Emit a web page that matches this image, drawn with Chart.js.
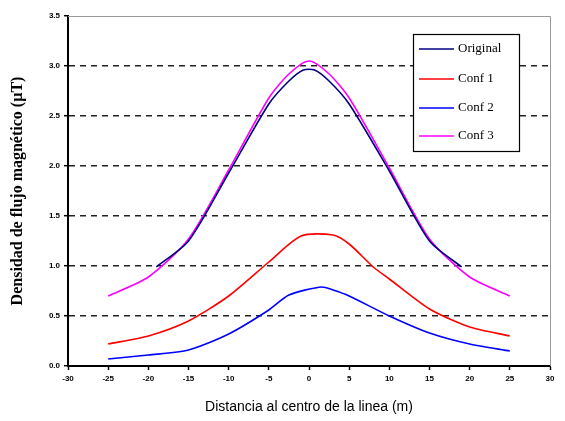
<!DOCTYPE html>
<html>
<head>
<meta charset="utf-8">
<script src="https://cdn.jsdelivr.net/npm/chart.js@4"></script>
<style>
  html, body { margin: 0; padding: 0; background: #fff; }
  #wrap { width: 565px; height: 421px; }
</style>
</head>
<body>
<div id="wrap"><canvas id="chart" width="565" height="421"></canvas></div>
<script>
// valores (distancia en m, densidad en uT)
const originalX = [-19, -15, -10, -5, -2.5, -0.7, 0.7, 2.5, 5, 10, 15, 19];
const originalY = [0.99, 1.25, 1.93, 2.62, 2.85, 2.96, 2.96, 2.85, 2.62, 1.95, 1.25, 0.99];

const conf1X = [-25, -20, -15, -10, -5, -1, 3, 5, 8, 10, 15, 20, 25];
const conf1Y = [0.22, 0.30, 0.45, 0.70, 1.04, 1.30, 1.31, 1.22, 0.99, 0.87, 0.57, 0.39, 0.30];

const conf2X = [-25, -20, -15, -10, -5, -2.5, 1.5, 3, 5, 10, 15, 20, 25];
const conf2Y = [0.07, 0.11, 0.16, 0.32, 0.56, 0.71, 0.79, 0.76, 0.70, 0.50, 0.33, 0.22, 0.15];

const conf3X = [-25, -20, -15, -10, -5, -2.5, 0, 2.5, 5, 10, 15, 20, 25];
const conf3Y = [0.70, 0.89, 1.27, 1.96, 2.68, 2.92, 3.05, 2.92, 2.68, 1.98, 1.27, 0.89, 0.70];

const seriesNames = ["Original", "Conf 1", "Conf 2", "Conf 3"];
const seriesColors = ["#000080", "#FF0000", "#0000FF", "#FF00FF"];

const xTicks = [-30, -25, -20, -15, -10, -5, 0, 5, 10, 15, 20, 25, 30];
const yTicks = [0, 0.5, 1.0, 1.5, 2.0, 2.5, 3.0, 3.5];

function pts(xs, ys) {
  return xs.map((x, i) => ({ x: x, y: ys[i] }));
}

const allData = [
  pts(originalX, originalY),
  pts(conf1X, conf1Y),
  pts(conf2X, conf2Y),
  pts(conf3X, conf3Y),
];

// orden de dibujo: Conf 3 debajo del Original
const drawOrder = [1, 2, 3, 4];

const datasets = allData.map((d, i) => ({
  label: seriesNames[i],
  data: d,
  borderColor: seriesColors[i],
  backgroundColor: seriesColors[i],
  borderWidth: 1.6,
  pointRadius: 0,
  tension: 0.25,
  order: drawOrder[i],
}));

// marco gris arriba/derecha y leyenda dentro del area
const framePlugin = {
  id: "frame",
  afterDatasetsDraw(chart) {
    const c = chart.ctx;
    const a = chart.chartArea;
    c.save();
    c.strokeStyle = "#9a9a9a";
    c.lineWidth = 1;
    c.beginPath();
    c.moveTo(a.left, a.top + 0.5);
    c.lineTo(a.right + 0.5, a.top + 0.5);
    c.lineTo(a.right + 0.5, a.bottom);
    c.stroke();

    // leyenda
    const bx = 413, by = 34, bw = 106, bh = 117;
    c.fillStyle = "#fff";
    c.fillRect(bx, by, bw, bh);
    c.strokeStyle = "#000";
    c.lineWidth = 1.2;
    c.strokeRect(bx + 0.5, by + 0.5, bw, bh);
    const rows = [49, 79, 108, 136];
    c.font = "13px 'Liberation Serif'";
    c.textBaseline = "middle";
    seriesNames.forEach((name, i) => {
      c.strokeStyle = seriesColors[i];
      c.lineWidth = 1.6;
      c.beginPath();
      c.moveTo(419, rows[i]);
      c.lineTo(454, rows[i]);
      c.stroke();
      c.fillStyle = "#000";
      c.fillText(name, 458, rows[i]);
    });
    c.restore();
  },
};

const tickFont = { family: "'Liberation Sans'", size: 8, weight: "bold" };

new Chart(document.getElementById("chart"), {
  type: "line",
  data: { datasets: datasets },
  plugins: [framePlugin],
  options: {
    responsive: false,
    animation: false,
    layout: { padding: { top: 16, right: 15, left: 0, bottom: 0 } },
    plugins: {
      legend: { display: false },
      tooltip: { enabled: false },
    },
    scales: {
      x: {
        type: "linear",
        min: -30,
        max: 30,
        afterBuildTicks: (s) => { s.ticks = xTicks.map((v) => ({ value: v })); },
        afterFit: (s) => { s.height = 55; },
        border: { color: "#000", width: 2 },
        grid: {
          drawOnChartArea: false,
          tickLength: 4,
          tickColor: "#000",
          tickWidth: 1.5,
        },
        ticks: {
          color: "#000",
          font: tickFont,
          padding: 4,
          maxRotation: 0,
          callback: (v) => String(v),
        },
        title: {
          display: true,
          text: "Distancia al centro de la linea (m)",
          color: "#000",
          font: { family: "'Liberation Sans'", size: 14 },
          padding: { top: 0, bottom: 5 },
        },
      },
      y: {
        type: "linear",
        min: 0,
        max: 3.5,
        afterBuildTicks: (s) => { s.ticks = yTicks.map((v) => ({ value: v })); },
        afterFit: (s) => { s.width = 68; },
        border: { color: "#000", width: 2, dash: [6, 5] },
        grid: {
          color: (ctx) => (ctx.tick && (ctx.tick.value === 0 || ctx.tick.value === 3.5)) ? "rgba(0,0,0,0)" : "#222",
          lineWidth: 1.4,
          tickBorderDash: [],
          tickLength: 4,
          tickColor: "#000",
          tickWidth: 1.5,
        },
        ticks: {
          color: "#000",
          font: tickFont,
          padding: 4,
          callback: (v) => v.toFixed(1),
        },
        title: {
          display: true,
          text: "Densidad de flujo magnético (µT)",
          color: "#000",
          font: { family: "'Liberation Serif'", size: 16, weight: "bold" },
          padding: { top: 8, bottom: 0 },
        },
      },
    },
  },
});
</script>
</body>
</html>
